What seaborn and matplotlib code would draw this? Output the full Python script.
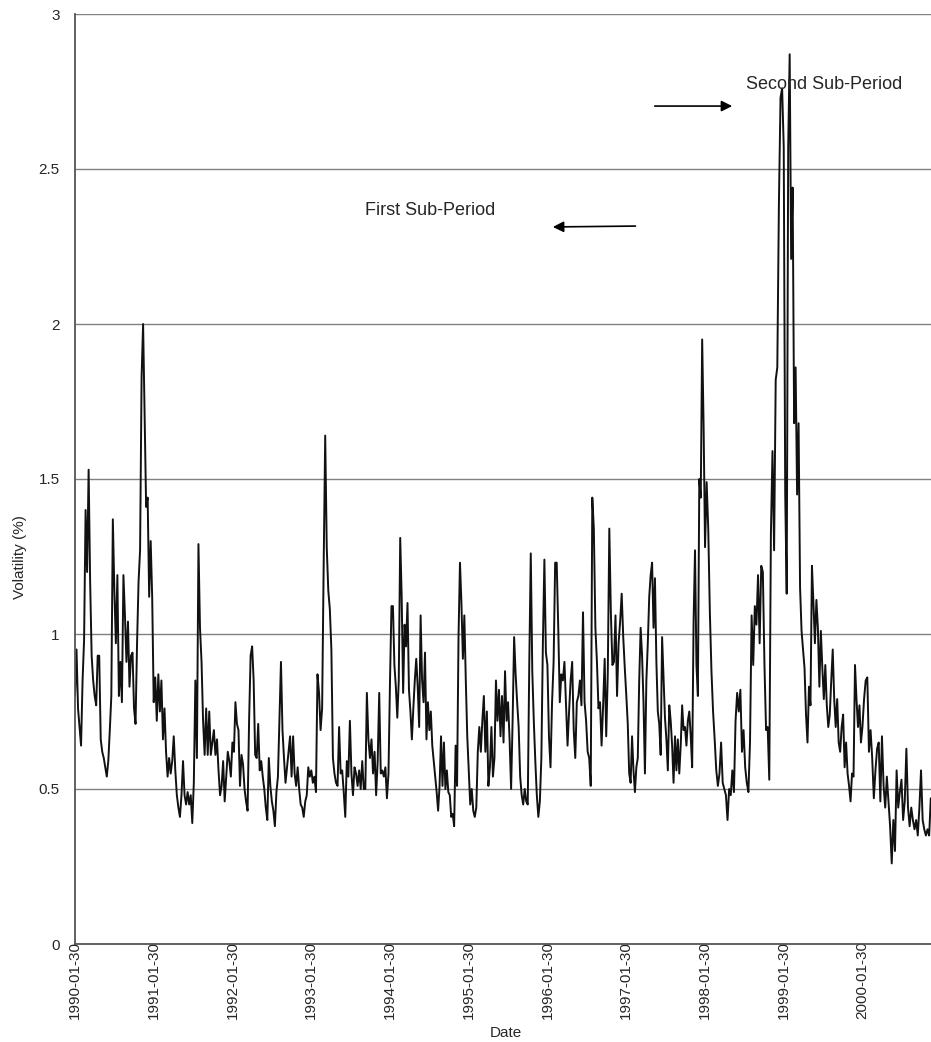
import matplotlib
matplotlib.use("Agg")
import matplotlib.pyplot as plt
import numpy as np
import pandas as pd
import seaborn as sns

# daily volatility (each list runs from Jan 30)
v1990 = [0.80, 0.95, 0.76, 0.70, 0.64, 0.85, 0.98, 1.40, 1.20, 1.53, 1.17, 0.93, 0.85, 0.80, 0.77, 0.93, 0.93,
         0.66, 0.62, 0.60, 0.57, 0.54, 0.59, 0.69, 0.80, 1.37, 1.14, 0.97, 1.19, 0.80, 0.91, 0.78, 1.19, 1.06,
         0.91, 1.04, 0.83, 0.93, 0.94, 0.76, 0.71, 0.97, 1.17, 1.27, 1.83, 2.00, 1.71, 1.41, 1.44, 1.12, 1.30, 1.12]
v1991 = [0.78, 0.86, 0.72, 0.87, 0.75, 0.85, 0.66, 0.76, 0.62, 0.54, 0.60, 0.55, 0.59, 0.67, 0.56, 0.48, 0.44,
         0.41, 0.48, 0.59, 0.48, 0.45, 0.49, 0.45, 0.48, 0.39, 0.52, 0.85, 0.60, 1.29, 1.02, 0.91, 0.72, 0.61,
         0.76, 0.61, 0.75, 0.61, 0.65, 0.69, 0.61, 0.66, 0.56, 0.48, 0.51, 0.59, 0.46, 0.54, 0.62, 0.59, 0.54]
v1992 = [0.65, 0.62, 0.78, 0.71, 0.69, 0.51, 0.61, 0.58, 0.50, 0.46, 0.43, 0.72, 0.93, 0.96, 0.85, 0.61, 0.60,
         0.71, 0.56, 0.59, 0.54, 0.50, 0.44, 0.40, 0.60, 0.51, 0.46, 0.43, 0.38, 0.49, 0.54, 0.73, 0.91, 0.69,
         0.60, 0.52, 0.57, 0.62, 0.67, 0.54, 0.67, 0.55, 0.51, 0.57, 0.50, 0.45, 0.44, 0.41, 0.46, 0.48, 0.57, 0.54]
v1993 = [0.56, 0.52, 0.54, 0.49, 0.87, 0.81, 0.69, 0.76, 1.22, 1.64, 1.28, 1.14, 1.08, 0.95, 0.60, 0.55, 0.52,
         0.51, 0.70, 0.55, 0.56, 0.49, 0.41, 0.59, 0.54, 0.72, 0.55, 0.48, 0.57, 0.55, 0.51, 0.56, 0.50, 0.59,
         0.50, 0.50, 0.81, 0.66, 0.60, 0.66, 0.55, 0.62, 0.48, 0.59, 0.81, 0.55, 0.56, 0.54, 0.57, 0.47, 0.55]
v1994 = [0.85, 1.09, 1.09, 0.90, 0.83, 0.73, 0.85, 1.31, 1.12, 0.81, 1.03, 0.96, 1.10, 0.82, 0.75, 0.66, 0.76,
         0.85, 0.92, 0.83, 0.70, 1.06, 0.85, 0.78, 0.94, 0.66, 0.78, 0.69, 0.75, 0.64, 0.59, 0.54, 0.49, 0.43,
         0.51, 0.67, 0.51, 0.65, 0.50, 0.56, 0.49, 0.48, 0.41, 0.42, 0.38, 0.64, 0.51, 0.99, 1.23, 1.10, 0.92,
         1.06, 0.85, 0.67]
v1995 = [0.56, 0.45, 0.50, 0.43, 0.41, 0.44, 0.62, 0.70, 0.62, 0.72, 0.80, 0.62, 0.75, 0.51, 0.57, 0.70, 0.54,
         0.60, 0.85, 0.72, 0.82, 0.67, 0.80, 0.65, 0.88, 0.72, 0.78, 0.66, 0.50, 0.72, 0.99, 0.87, 0.78, 0.70,
         0.54, 0.48, 0.45, 0.50, 0.46, 0.45, 0.90, 1.26, 0.88, 0.72, 0.59, 0.48, 0.41, 0.46, 0.60, 0.97, 1.24, 0.94]
v1996 = [0.90, 0.67, 0.57, 0.78, 0.91, 1.23, 1.23, 1.02, 0.78, 0.87, 0.85, 0.91, 0.77, 0.64, 0.75, 0.85, 0.91,
         0.69, 0.60, 0.78, 0.80, 0.85, 0.77, 1.07, 0.78, 0.72, 0.62, 0.60, 0.51, 1.44, 1.34, 1.02, 0.91, 0.76,
         0.78, 0.64, 0.77, 0.92, 0.67, 0.87, 1.34, 1.07, 0.90, 0.91, 1.06, 0.80, 0.97, 1.04, 1.13, 0.99, 0.89]
v1997 = [0.80, 0.71, 0.55, 0.52, 0.67, 0.56, 0.49, 0.57, 0.60, 0.85, 1.02, 0.93, 0.78, 0.55, 0.85, 0.97, 1.12,
         1.19, 1.23, 1.02, 1.18, 0.91, 0.75, 0.71, 0.61, 0.99, 0.86, 0.73, 0.66, 0.56, 0.77, 0.72, 0.64, 0.52,
         0.67, 0.56, 0.66, 0.55, 0.64, 0.77, 0.69, 0.70, 0.64, 0.72, 0.75, 0.67, 0.57, 1.04, 1.27, 0.90, 0.80,
         1.50, 1.44, 1.95, 1.67]
v1998 = [1.28, 1.49, 1.34, 1.07, 0.88, 0.75, 0.66, 0.56, 0.51, 0.55, 0.65, 0.52, 0.50, 0.48, 0.40, 0.50, 0.48,
         0.56, 0.49, 0.72, 0.81, 0.75, 0.82, 0.62, 0.69, 0.57, 0.52, 0.49, 0.65, 1.06, 0.90, 1.09, 1.03, 1.19,
         0.97, 1.22, 1.20, 0.90, 0.69, 0.70, 0.53, 1.32, 1.59, 1.27, 1.82, 1.86, 2.39, 2.73, 2.76]
v1999 = [2.57, 1.45, 1.13, 2.57, 2.87, 2.21, 2.44, 1.68, 1.86, 1.45, 1.68, 1.15, 1.01, 0.95, 0.89, 0.74, 0.65,
         0.83, 0.77, 1.22, 1.10, 0.97, 1.11, 1.02, 0.83, 1.01, 0.89, 0.79, 0.90, 0.77, 0.70, 0.74, 0.85, 0.95,
         0.79, 0.70, 0.79, 0.65, 0.62, 0.70, 0.74, 0.57, 0.65, 0.55, 0.51, 0.46, 0.55, 0.54, 0.90, 0.79, 0.70,
         0.77, 0.65]
v2000 = [0.70, 0.79, 0.85, 0.86, 0.62, 0.69, 0.60, 0.47, 0.56, 0.63, 0.65, 0.46, 0.67, 0.51, 0.44, 0.54, 0.46,
         0.38, 0.26, 0.40, 0.30, 0.56, 0.44, 0.49, 0.53, 0.40, 0.46, 0.63, 0.44, 0.38, 0.44, 0.40, 0.37, 0.40,
         0.35, 0.44, 0.56, 0.40, 0.37, 0.35, 0.37, 0.35, 0.47]

years = list(range(1990, 2001))
yearly = [v1990, v1991, v1992, v1993, v1994, v1995, v1996, v1997, v1998, v1999, v2000]
last_date = "2000-12-12"
tick_labels = [f"{y}-01-30" for y in years]

# build one frame with a date per observation
parts = []
for y, vals in zip(years, yearly):
    start = pd.Timestamp(f"{y}-01-30")
    n = len(vals)
    if y < years[-1]:
        span = (pd.Timestamp(f"{y + 1}-01-30") - start).days
        dates = start + pd.to_timedelta(np.arange(n) / n * span, unit="D")
    else:
        dates = pd.date_range(start, last_date, periods=n)
    parts.append(pd.DataFrame({"Date": dates, "vol": vals}))
vol_df = pd.concat(parts, ignore_index=True)

sns.set_theme(style="white")
plt.rcParams["font.family"] = ["Liberation Sans", "DejaVu Sans"]

fig = plt.figure(figsize=(9.31, 10.42), dpi=100)
ax = fig.add_axes([75 / 931, 1 - 944 / 1042, 856 / 931, 930 / 1042])

sns.lineplot(data=vol_df, x="Date", y="vol", estimator=None, color="#111111", lw=1.4, ax=ax)

ax.set_ylim(0, 3)
ax.set_xlim(vol_df["Date"].min(), vol_df["Date"].max() + pd.Timedelta(days=1))
yt = [0, 0.5, 1, 1.5, 2, 2.5, 3]
ax.set_yticks(yt)
ax.set_yticklabels([f"{v:g}" for v in yt], fontsize=11)
ax.set_xticks([pd.Timestamp(t) for t in tick_labels])
ax.set_xticklabels(tick_labels, rotation=90, fontsize=11, ha="center", va="top")
ax.tick_params(axis="x", direction="inout", length=8, width=1, color="#555555", pad=-6)
ax.tick_params(axis="y", direction="out", length=2, width=1, color="#555555", pad=9)

ax.grid(axis="y", color="#808080", lw=1)
ax.grid(axis="x", visible=False)
for side in ["top", "right"]:
    ax.spines[side].set_visible(False)
for side in ["left", "bottom"]:
    ax.spines[side].set_color("#555555")
    ax.spines[side].set_linewidth(1.3)

ax.set_ylabel("Volatility (%)", fontsize=11)
ax.yaxis.set_label_coords(-0.056, 0.416)
ax.set_xlabel("Date", fontsize=11)
ax.xaxis.set_label_coords(0.5035, -0.088)

# sub-period markers
ax.text(0.784, 0.924, "Second Sub-Period", transform=ax.transAxes, fontsize=13, va="center", ha="left")
ax.annotate("", xy=(0.771, 0.901), xytext=(0.674, 0.901), xycoords="axes fraction",
            arrowprops=dict(arrowstyle="-|>", color="black", lw=1.2, mutation_scale=16))
ax.text(0.339, 0.789, "First Sub-Period", transform=ax.transAxes, fontsize=13, va="center", ha="left")
ax.annotate("", xy=(0.555, 0.771), xytext=(0.658, 0.772), xycoords="axes fraction",
            arrowprops=dict(arrowstyle="-|>", color="black", lw=1.2, mutation_scale=16))

fig.savefig("out.png", dpi=100)
